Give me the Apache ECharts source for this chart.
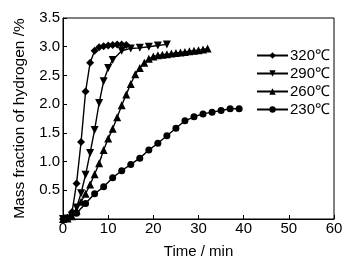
<!DOCTYPE html>
<html>
<head>
	<meta charset="utf-8"/>
	<title>Hydrogen absorption</title>
</head>
<body style="margin: 0; background: #fff;">

	<div id="chart" style="width: 348px; height: 264px;"></div>

	<script src="https://cdn.jsdelivr.net/npm/echarts@6/dist/echarts.min.js"></script>
	<script>

		// 时间 (min) 与 吸氢量 (%)
		var t320 = [0, 1, 2, 3, 4, 5, 6, 7, 8, 9, 10, 11, 12, 13, 14];
		var v320 = [0, 0.02, 0.12, 0.62, 1.34, 2.22, 2.72, 2.93, 2.99, 3.01, 3.02, 3.03, 3.04, 3.04, 3.03];

		var t290 = [0, 1, 2, 3, 4, 5, 6, 7, 8, 9, 10, 11, 13, 15, 17, 19, 21, 23];
		var v290 = [0, 0.01, 0.05, 0.2, 0.45, 0.77, 1.15, 1.55, 2.02, 2.4, 2.63, 2.77, 2.93, 2.97, 2.98, 3.0, 3.02, 3.04];

		var t260 = [0, 1, 2, 3, 4, 5, 6, 7, 8, 9, 10, 11, 12, 13, 14, 15, 16, 17, 18, 19, 20,
			21, 22, 23, 24, 25, 26, 27, 28, 29, 30, 31, 32];
		var v260 = [0, 0.01, 0.05, 0.15, 0.3, 0.44, 0.6, 0.78, 0.97, 1.2, 1.4, 1.57, 1.77, 1.98, 2.17, 2.35, 2.52, 2.63, 2.72, 2.79, 2.83,
			2.85, 2.86, 2.87, 2.88, 2.89, 2.9, 2.91, 2.92, 2.93, 2.94, 2.95, 2.97];

		var t230 = [1, 3, 5, 7, 9, 11, 13, 15, 17, 19, 21, 23, 25, 27, 29, 31, 33, 35, 37, 39];
		var v230 = [0.01, 0.1, 0.27, 0.44, 0.56, 0.72, 0.84, 0.95, 1.06, 1.2, 1.32, 1.45, 1.58, 1.71, 1.78, 1.83, 1.86, 1.89, 1.92, 1.92];

		var names = ['320℃', '290℃', '260℃', '230℃'];

		function pairs (xs, ys) {
			var out = [];
			for (var i = 0; i < xs.length; i++) {
				out.push([xs[i], ys[i]]);
			}
			return out;
		}

		function makeSeries (name, data, symbol, size, rotate) {
			return {
				name: name,
				type: 'line',
				data: data,
				symbol: symbol,
				symbolSize: size,
				symbolRotate: rotate || 0,
				showSymbol: true,
				animation: false,
				lineStyle: { color: '#000', width: 1.4 },
				itemStyle: { color: '#000', borderWidth: 0 }
			};
		}

		var oChart = document.getElementById('chart');
		var myChart = echarts.init(oChart, null, { renderer: 'canvas' });

		var fontName = 'Liberation Sans, Arial, sans-serif';

		var option = {
			animation: false,
			textStyle: { fontFamily: fontName, color: '#000' },
			grid: {
				left: 63,
				right: 14,
				top: 18,
				bottom: 41,
				show: true,
				borderColor: '#000',
				borderWidth: 1
			},
			legend: {
				orient: 'vertical',
				left: 251,
				top: 43,
				itemWidth: 31,
				itemHeight: 8,
				itemGap: 3,
				data: names,
				textStyle: { fontFamily: fontName, fontSize: 15, color: '#000', padding: [0, 0, 0, -3] }
			},
			xAxis: {
				type: 'value',
				min: 0,
				max: 60,
				interval: 10,
				name: 'Time / min',
				nameLocation: 'middle',
				nameGap: 25,
				nameTextStyle: { fontSize: 15, color: '#000' },
				axisLine: { lineStyle: { color: '#000', width: 1 } },
				axisTick: { inside: true, length: 4, lineStyle: { color: '#000' } },
				axisLabel: { fontSize: 15, color: '#000', margin: 2 },
				splitLine: { show: false }
			},
			yAxis: {
				type: 'value',
				min: 0,
				max: 3.5,
				interval: 0.5,
				name: 'Mass fraction of hydrogen /%',
				nameLocation: 'middle',
				nameGap: 35,
				nameTextStyle: { fontSize: 15.5, color: '#000' },
				axisLine: { show: true, lineStyle: { color: '#000', width: 1 } },
				axisTick: { show: true, inside: true, length: 4, lineStyle: { color: '#000' } },
				axisLabel: {
					fontSize: 15,
					color: '#000',
					margin: 3,
					formatter: function (v) {
						return v === 0 ? '' : v.toFixed(1);
					}
				},
				splitLine: { show: false }
			},
			series: [
				makeSeries(names[0], pairs(t320, v320), 'diamond', 8),
				makeSeries(names[1], pairs(t290, v290), 'triangle', 8, 180),
				makeSeries(names[2], pairs(t260, v260), 'triangle', 8),
				makeSeries(names[3], pairs(t230, v230), 'circle', 7)
			]
		};

		myChart.setOption(option);

	</script>
</body>
</html>
